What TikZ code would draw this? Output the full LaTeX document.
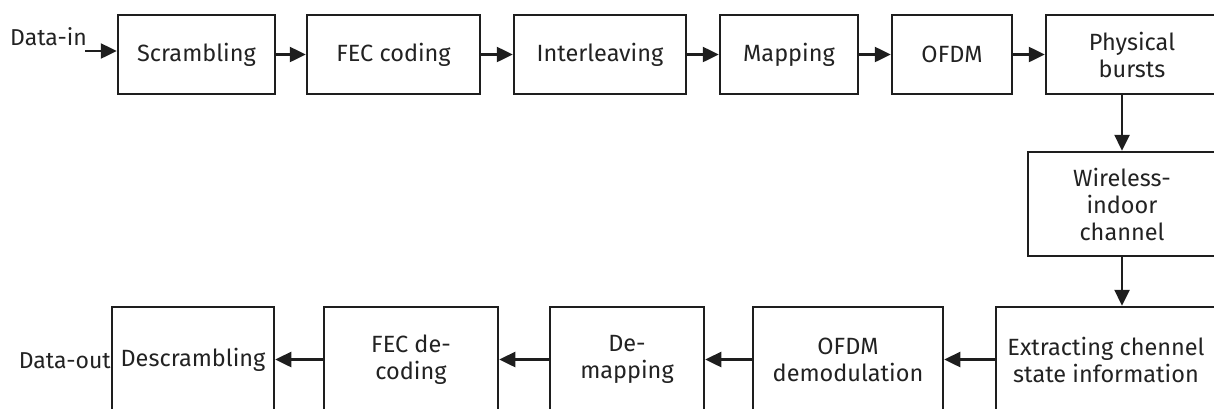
\documentclass[tikz,border=0pt]{standalone}
\usepackage{fontspec}
\setmainfont{Fira Sans}
\usetikzlibrary{arrows.meta}
\definecolor{ln}{HTML}{1E1E1E}
\definecolor{tx}{HTML}{222222}
\tikzset{
  blk/.style={draw=ln, line width=2.5pt, inner sep=0pt, align=center, text=tx,
    font=\fontsize{23.5}{27}\selectfont},
  conn/.style={draw=ln, line width=2.5pt, -{Triangle[length=16pt,width=15pt]}},
  lbl/.style={text=tx, inner sep=0pt, font=\fontsize{23}{27}\selectfont}
}
\begin{document}
\begin{tikzpicture}[x=1pt,y=-1pt]
\useasboundingbox (0,0) rectangle (1214,408);
\clip (0,0) rectangle (1214,408);
% top row
\node[blk, minimum width=157pt, minimum height=79pt] (scr)  at (196.5,54.5) {Scrambling};
\node[blk, minimum width=173pt, minimum height=79pt] (fec)  at (393.5,54.5) {FEC coding};
\node[blk, minimum width=172pt, minimum height=79pt] (intl) at (600,54.5) {Interleaving};
\node[blk, minimum width=138pt, minimum height=79pt] (map)  at (789,54.5) {Mapping};
\node[blk, minimum width=120pt, minimum height=79pt] (ofdm) at (952,54.5) {OFDM};
\node[blk, minimum width=172pt, minimum height=79pt] (phys) at (1132,54.5) {Physical\\bursts};
% channel
\node[blk, minimum width=188pt, minimum height=104pt] (wire) at (1122,204) {Wireless-\\indoor\\channel};
% bottom row
\node[blk, minimum width=162pt, minimum height=105pt] (desc)  at (193,359.5) {Descrambling};
\node[blk, minimum width=174pt, minimum height=105pt] (fecd)  at (411,359.5) {FEC de-\\coding};
\node[blk, minimum width=154pt, minimum height=105pt] (demap) at (627,359.5) {De-\\mapping};
\node[blk, minimum width=190pt, minimum height=105pt] (ofdmd) at (848,359.5) {OFDM\\demodulation};
\node[blk, minimum width=220pt, minimum height=105pt] (ext)   at (1106,359.5) {Extracting chennel\\state information};
% labels
\node[lbl, anchor=south west] (din) at (10,46) {Data-in};
\coordinate (dinS) at (85,51);
\node[lbl, anchor=east] (dout) at (111,361) {Data-out};
% connectors
\draw[conn] (dinS) -- (dinS -| scr.west);
\draw[conn] (scr) -- (fec);
\draw[conn] (fec) -- (intl);
\draw[conn] (intl) -- (map);
\draw[conn] (map) -- (ofdm);
\draw[conn] (ofdm) -- (phys);
\draw[conn] (wire.north |- phys.south) -- (wire.north);
\draw[conn] (wire.south) -- (wire.south |- ext.north);
\draw[conn] (ext) -- (ofdmd);
\draw[conn] (ofdmd) -- (demap);
\draw[conn] (demap) -- (fecd);
\draw[conn] (fecd) -- (desc);
\end{tikzpicture}
\end{document}
